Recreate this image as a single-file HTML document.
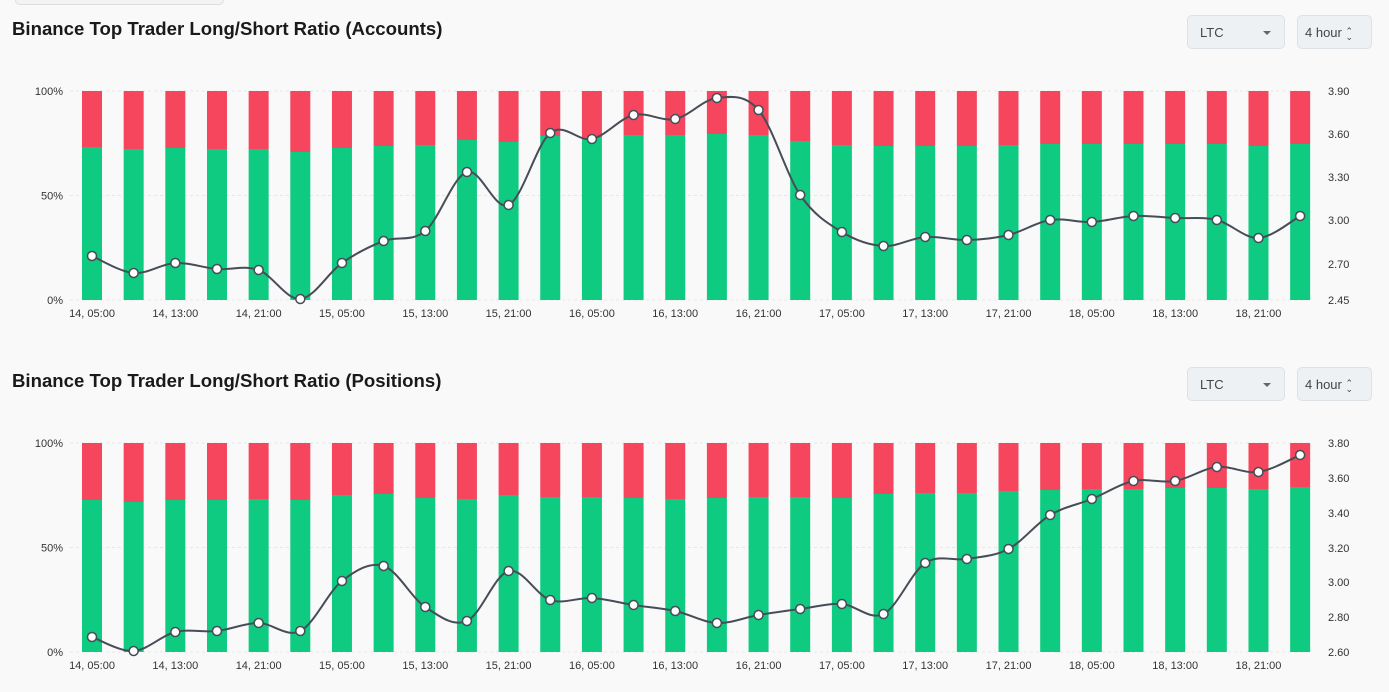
<!DOCTYPE html>
<html><head><meta charset="utf-8"><style>
html,body{margin:0;padding:0;background:#f9f9f9;width:1389px;height:692px;overflow:hidden;font-family:"Liberation Sans",sans-serif;}
.t{position:absolute;left:12px;font-size:18.6px;font-weight:bold;color:#1a1a1a;}
.dd{position:absolute;background:#eef1f4;border:1px solid #dde2e7;border-radius:5px;font-size:13px;color:#444;box-sizing:border-box;}
.ar{position:absolute;right:13px;top:15px;width:0;height:0;border-left:4px solid transparent;border-right:4px solid transparent;border-top:4px solid #666;}
</style></head><body>
<div style="position:absolute;left:15px;top:-6px;width:207px;height:9px;border:1px solid #ddd;border-radius:5px;background:#f3f3f3"></div>
<div class="t" style="top:18px">Binance Top Trader Long/Short Ratio (Accounts)</div>
<div class="t" style="top:370px">Binance Top Trader Long/Short Ratio (Positions)</div>
<div class="dd" style="left:1187px;top:15px;width:98px;height:34px;padding:9px 12px">LTC<span class="ar"></span></div>
<div class="dd" style="left:1297px;top:15px;width:75px;height:34px;padding:9px 7px">4 hour <span style="font-size:9px;display:inline-block;line-height:6px;vertical-align:middle">⌃<br>⌄</span></div>
<div class="dd" style="left:1187px;top:367px;width:98px;height:34px;padding:9px 12px">LTC<span class="ar"></span></div>
<div class="dd" style="left:1297px;top:367px;width:75px;height:34px;padding:9px 7px">4 hour <span style="font-size:9px;display:inline-block;line-height:6px;vertical-align:middle">⌃<br>⌄</span></div>
<svg id="s" width="1389" height="692" style="position:absolute;left:0;top:0" font-family="Liberation Sans, sans-serif" font-size="11" fill="#333"></svg>
<script>
var s=document.getElementById('s'),h='';
var labs=['14, 05:00','14, 13:00','14, 21:00','15, 05:00','15, 13:00','15, 21:00','16, 05:00','16, 13:00','16, 21:00','17, 05:00','17, 13:00','17, 21:00','18, 05:00','18, 13:00','18, 21:00'];
function chart(y0,y1,green,line,rt){
 var ticks=[[y0,'100%'],[(y0+y1)/2,'50%'],[y1,'0%']];
 ticks.forEach(function(t){h+='<line x1="70" x2="1312" y1="'+t[0]+'" y2="'+t[0]+'" stroke="#e6e6e6" stroke-dasharray="3,3"/>';h+='<text x="63" y="'+(t[0]+4)+'" text-anchor="end">'+t[1]+'</text>';});
 rt.forEach(function(t){h+='<text x="1328" y="'+(t[0]+4)+'">'+t[1]+'</text>';});
 var pts=[];
 for(var i=0;i<30;i++){var c=92+i*41.66;
  h+='<rect x="'+(c-10)+'" y="'+y0+'" width="20" height="'+(green[i]-y0)+'" fill="#f6465d"/>';
  h+='<rect x="'+(c-10)+'" y="'+green[i]+'" width="20" height="'+(y1-green[i])+'" fill="#0ecb81"/>';
  pts.push([c,line[i]]);
  if(i%2==0)h+='<text x="'+c+'" y="'+(y1+17)+'" text-anchor="middle">'+labs[i/2]+'</text>';}
 var d='M'+pts[0][0]+','+pts[0][1];
 for(var i=0;i<29;i++){var p0=pts[Math.max(i-1,0)],p1=pts[i],p2=pts[i+1],p3=pts[Math.min(i+2,29)];
  d+=' C'+(p1[0]+(p2[0]-p0[0])/6)+','+(p1[1]+(p2[1]-p0[1])/6)+' '+(p2[0]-(p3[0]-p1[0])/6)+','+(p2[1]-(p3[1]-p1[1])/6)+' '+p2[0]+','+p2[1];}
 h+='<path d="'+d+'" fill="none" stroke="#474d57" stroke-width="2"/>';
 pts.forEach(function(p){h+='<circle cx="'+p[0]+'" cy="'+p[1]+'" r="4.5" fill="#fff" stroke="#474d57" stroke-width="1.5"/>';});
}
chart(91,300,[147,149,148,149,149,152,148,146,145,140,142,136,137,135,135,134,135,141,145,146,146,146,145,144,144,144,144,144,146,144],
[256,273,263,269,270,299,263,241,231,172,205,133,139,115,119,98,110,195,232,246,237,240,235,220,222,216,218,220,238,216],
[[91,'3.90'],[134,'3.60'],[177,'3.30'],[220,'3.00'],[264,'2.70'],[300,'2.45']]);
chart(443,652,[500,502,500,500,499,500,495,494,498,499,495,497,497,498,499,498,497,497,498,494,493,493,491,490,489,489,488,488,489,487],
[637,651,632,631,623,631,581,566,607,621,571,600,598,605,611,623,615,609,604,614,563,559,549,515,499,481,481,467,472,455],
[[443,'3.80'],[478,'3.60'],[513,'3.40'],[548,'3.20'],[582,'3.00'],[617,'2.80'],[652,'2.60']]);
s.innerHTML=h;
</script>
</body></html>
